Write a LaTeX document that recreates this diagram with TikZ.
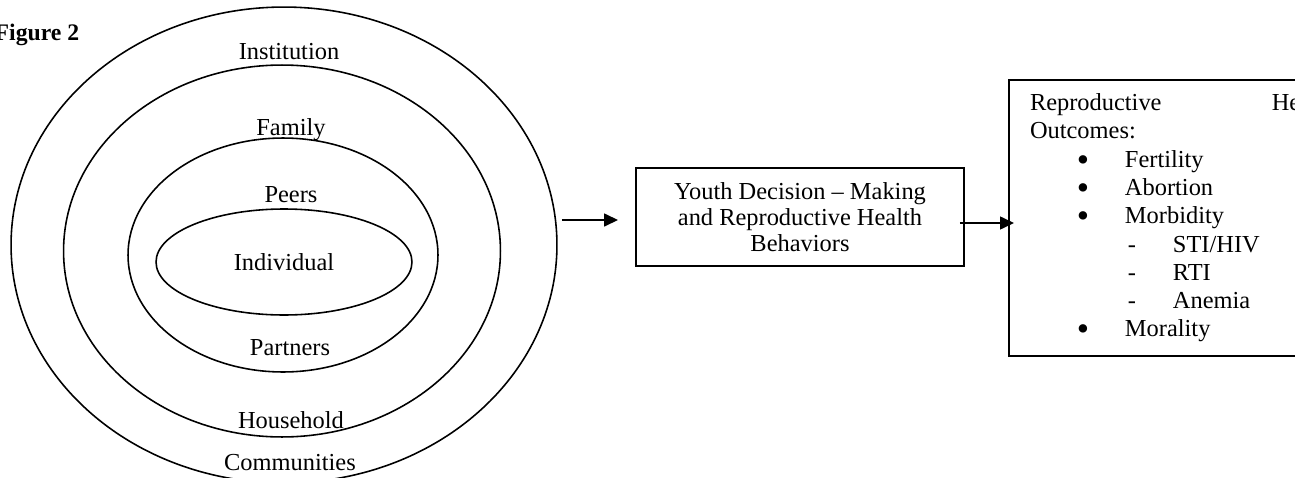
\documentclass[tikz,border=0pt]{standalone}
\usepackage{fontspec}
\setmainfont{Liberation Serif}
\usetikzlibrary{positioning,arrows.meta,shapes.geometric}

\newcommand{\bigdot}{\smash{\raisebox{-0.35ex}{\fontsize{20}{20}\selectfont\textbullet}}}

\begin{document}
\begin{tikzpicture}[
    x=0.02cm, y=-0.02cm,
    >={Triangle[length=0.28cm,width=0.26cm]},
    line width=0.9pt,
    font=\fontsize{13.9}{16.1}\selectfont,
    ring/.style={draw,ellipse,inner sep=0pt,outer sep=0pt},
    block/.style={draw,rectangle,inner sep=0pt,outer sep=0pt},
  ]
  \useasboundingbox (0,0) rectangle (1295,477);
  \clip (0,0) rectangle (1295,477);

  % Rings
  \node[ring,minimum width=10.92cm,minimum height=9.52cm] (rcomm) at (284,245) {};
  \node[ring,minimum width=8.74cm,minimum height=7.44cm] (rhouse) at (282,251) {};
  \node[ring,minimum width=6.2cm,minimum height=4.68cm] (rpeer) at (283,255) {};
  \node[ring,minimum width=5.12cm,minimum height=2.12cm] (rindiv) at (284,262) {Individual};

  % Ring labels
  \node[font=\fontsize{13.5}{15}\selectfont\bfseries,anchor=base east,inner sep=0pt] (figtitle) at (80,40) {Figure 2};
  \node (institution) at (289,52) {Institution};
  \node (family) at (291,130) {Family};
  \node (peers) at (291,195) {Peers};
  \node (partners) at (290,348) {Partners};
  \node (household) at (291,420) {Household};
  \node (communities) at (290,463) {Communities};

  % Boxes
  \node[block,align=center,font=\fontsize{13.9}{14.8}\selectfont,
        minimum width=6.56cm,minimum height=1.96cm] (youth) at (800,217)
        {Youth Decision -- Making\\and Reproductive Health\\Behaviors};
  \node[block,align=left,text width=6.14cm,inner xsep=0.42cm,
        minimum height=5.52cm,anchor=north west] (outcome) at (1009,80)
        {Reproductive\hfill Health\\
         Outcomes:\\
         \hspace*{0.94cm}\makebox[0.96cm][l]{\bigdot}Fertility\\
         \hspace*{0.94cm}\makebox[0.96cm][l]{\bigdot}Abortion\\
         \hspace*{0.94cm}\makebox[0.96cm][l]{\bigdot}Morbidity\\
         \hspace*{1.96cm}\makebox[0.9cm][l]{-}STI/HIV\\
         \hspace*{1.96cm}\makebox[0.9cm][l]{-}RTI\\
         \hspace*{1.96cm}\makebox[0.9cm][l]{-}Anemia\\
         \hspace*{0.94cm}\makebox[0.96cm][l]{\bigdot}Morality};

  % Arrows
  \draw[->,shorten <=0.1cm,shorten >=0.36cm]
    ([yshift=-0.06cm]rcomm.east |- youth.west) -- ([yshift=-0.06cm]youth.west);
  \draw[->,shorten <=-0.08cm,shorten >=-0.1cm]
    ([yshift=-0.12cm]youth.east) -- ([yshift=-0.12cm]youth.east -| outcome.west);
\end{tikzpicture}
\end{document}
